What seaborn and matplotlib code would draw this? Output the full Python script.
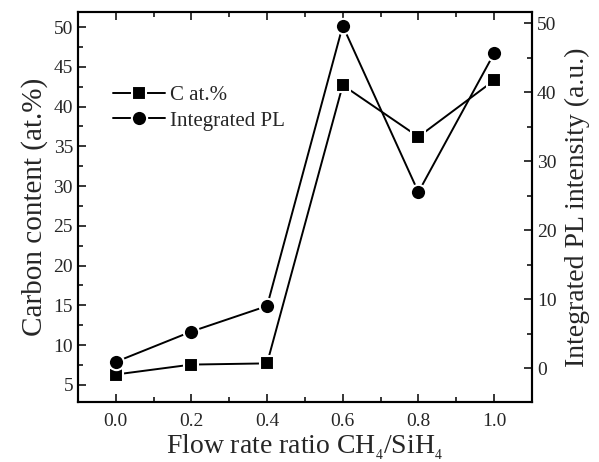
import matplotlib
matplotlib.use("Agg")
import matplotlib.pyplot as plt
import seaborn as sns
import pandas as pd
from matplotlib.ticker import MultipleLocator

ratio = [0.0, 0.2, 0.4, 0.6, 0.8, 1.0]
carbon = [6.3, 7.55, 7.7, 42.7, 36.2, 43.3]
pl = [0.9, 5.3, 9.0, 49.6, 25.5, 45.6]

sns.set_theme(style="ticks")
plt.rcParams['font.family'] = ['Liberation Serif', 'DejaVu Serif']
plt.rcParams['mathtext.fontset'] = 'custom'
plt.rcParams['mathtext.rm'] = 'Liberation Serif'
plt.rcParams['mathtext.it'] = 'Liberation Serif:italic'

df = pd.DataFrame({"ratio": ratio, "carbon": carbon, "pl": pl})

fig = plt.figure(figsize=(5.99, 4.62), dpi=100)
ax = fig.add_axes([0.130, 0.130, 0.758, 0.844])
ax2 = ax.twinx()

sns.lineplot(data=df, x="ratio", y="carbon", ax=ax, color="black", marker="s",
             markersize=10, markeredgecolor="white", markeredgewidth=1.5,
             linewidth=1.4, label="C at.%", legend=False)
sns.lineplot(data=df, x="ratio", y="pl", ax=ax2, color="black", marker="o",
             markersize=11, markeredgecolor="white", markeredgewidth=1.5,
             linewidth=1.4, label="Integrated PL", legend=False)

ax.set_xlim(-0.1, 1.1)
ax.set_ylim(2.85, 51.9)
ax2.set_ylim(-4.9, 51.6)

ax.xaxis.set_major_locator(MultipleLocator(0.2))
ax.xaxis.set_minor_locator(MultipleLocator(0.1))
ax.yaxis.set_major_locator(MultipleLocator(5))
ax.yaxis.set_minor_locator(MultipleLocator(2.5))
ax2.yaxis.set_major_locator(MultipleLocator(10))
ax2.yaxis.set_minor_locator(MultipleLocator(5))
ax.set_yticks(range(5, 51, 5))
ax2.set_yticks(range(0, 51, 10))

ax.tick_params(axis='x', which='both', direction='in', top=True, labelsize=14, pad=8)
ax.tick_params(axis='y', which='both', direction='in', right=False, labelsize=14)
ax2.tick_params(axis='y', which='both', direction='in', labelsize=14)
for a in (ax, ax2):
    a.tick_params(which='major', length=6, width=1.3)
    a.tick_params(which='minor', length=3.5, width=1.3)
    for s in a.spines.values():
        s.set_linewidth(1.5)
        s.set_color('black')

ax.set_xticks([0.0, 0.2, 0.4, 0.6, 0.8, 1.0])
ax.set_xticklabels(["0.0", "0.2", "0.4", "0.6", "0.8", "1.0"])

ax.set_xlabel(r"Flow rate ratio CH$_{_4}$/SiH$_{_4}$", fontsize=20, labelpad=2)
ax.set_ylabel("Carbon content (at.%)", fontsize=21, labelpad=4)
ax2.set_ylabel("Integrated PL intensity (a.u.)", fontsize=20, labelpad=6)

h1, l1 = ax.get_legend_handles_labels()
h2, l2 = ax2.get_legend_handles_labels()
ax.legend(h1 + h2, l1 + l2, loc="upper left", bbox_to_anchor=(0.035, 0.86),
          frameon=False, fontsize=15, handlelength=2.5, handletextpad=0.25,
          labelspacing=0.3)

fig.savefig("out.png", dpi=100)
